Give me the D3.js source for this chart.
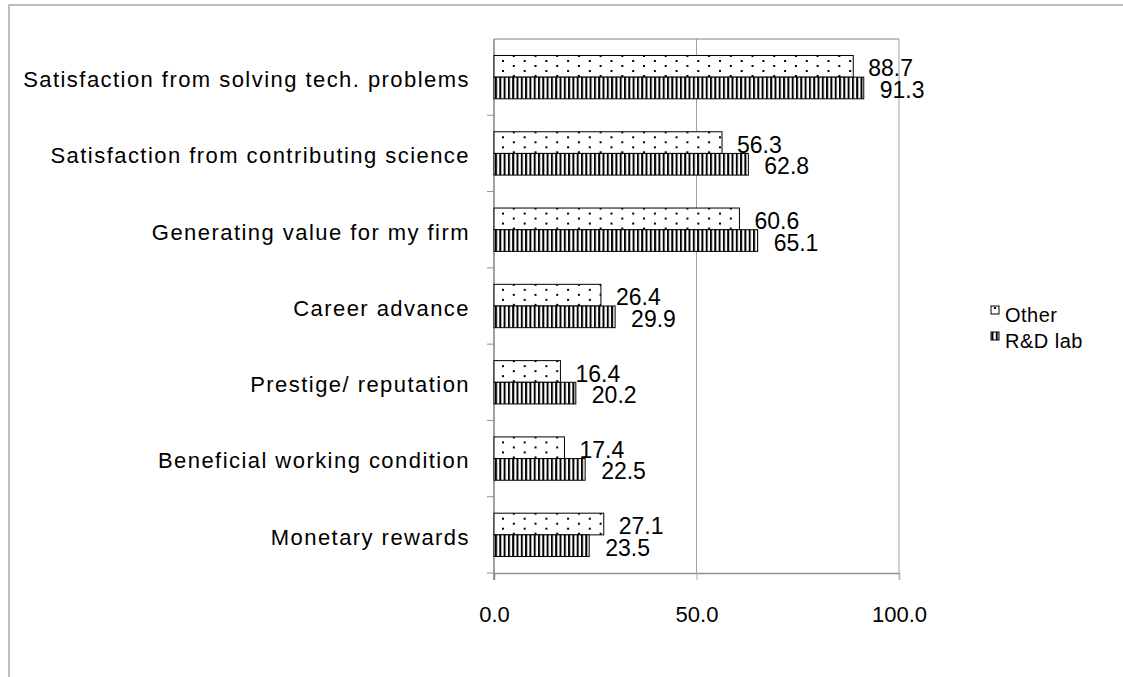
<!DOCTYPE html>
<html lang="en">
<head>
    <meta charset="UTF-8">
    <title>Motivation by workplace</title>
    <script src="https://d3js.org/d3.v7.min.js"></script>
    <style>
        body { margin: 0; background: #fff; font-family: "Liberation Sans", Arial, sans-serif; }
        svg text { fill: #000; }
    </style>
</head>
<body>
    <div id="chart"></div>
    <script>
        // Data
        var categories = [
            "Satisfaction from solving tech. problems",
            "Satisfaction from contributing science",
            "Generating value for my firm",
            "Career advance",
            "Prestige/ reputation",
            "Beneficial working condition",
            "Monetary rewards"
        ];
        var series = ["Other", "R&D lab"];
        var otherValues = [88.7, 56.3, 60.6, 26.4, 16.4, 17.4, 27.1];
        var rdValues = [91.3, 62.8, 65.1, 29.9, 20.2, 22.5, 23.5];
        var xTicks = [0, 50, 100];

        var width = 1123, height = 677;
        // plot area edges (note: "top" is reserved on window, so use plot*)
        var plotLeft = 494, plotRight = 899, plotTop = 39, plotBottom = 573;

        var svg = d3.select("#chart").append("svg")
            .attr("width", width)
            .attr("height", height);

        // patterns: dots for Other, vertical stripes for R&D lab
        var defs = svg.append("defs");
        var dots = defs.append("pattern")
            .attr("id", "dots")
            .attr("patternUnits", "userSpaceOnUse")
            .attr("width", 21.7).attr("height", 10)
            .attr("x", plotLeft + 8).attr("y", plotTop + 2);
        dots.append("rect").attr("width", 21.7).attr("height", 10).attr("fill", "#fff");
        dots.append("rect").attr("x", 0).attr("y", 0).attr("width", 2).attr("height", 2).attr("fill", "#000");
        dots.append("rect").attr("x", 10.8).attr("y", 5).attr("width", 2).attr("height", 2).attr("fill", "#000");

        var stripes = defs.append("pattern")
            .attr("id", "stripes")
            .attr("patternUnits", "userSpaceOnUse")
            .attr("width", 4.3).attr("height", 10)
            .attr("x", plotLeft + 1);
        stripes.append("rect").attr("width", 4.3).attr("height", 10).attr("fill", "#fff");
        stripes.append("rect").attr("width", 2).attr("height", 10).attr("fill", "#000");

        // outer frame, runs past the right and bottom edge
        svg.append("rect")
            .attr("x", 9).attr("y", 5)
            .attr("width", width).attr("height", height)
            .attr("fill", "none")
            .attr("stroke", "#a6a6a6")
            .attr("stroke-width", 1.5);

        var x = d3.scaleLinear().domain([0, 100]).range([plotLeft, plotRight]);
        var y = d3.scaleBand().domain(categories).range([plotTop, plotBottom]);
        var inner = d3.scaleBand().domain(series).range([0, y.bandwidth()])
            .paddingOuter(0.76).paddingInner(0);

        // grid and plot frame
        svg.append("g").selectAll("line")
            .data(xTicks.slice(1))
            .enter().append("line")
            .attr("x1", d => x(d)).attr("x2", d => x(d))
            .attr("y1", plotTop).attr("y2", plotBottom)
            .attr("stroke", "#a0a0a0").attr("stroke-width", 1);
        svg.append("line")
            .attr("x1", plotLeft).attr("x2", plotRight)
            .attr("y1", plotTop).attr("y2", plotTop)
            .attr("stroke", "#808080");

        // bottom axis
        var xAxis = svg.append("g")
            .attr("transform", `translate(0,${plotBottom})`)
            .call(d3.axisBottom(x).tickValues(xTicks).tickSize(7).tickPadding(22)
                .tickFormat(d3.format(".1f")));
        xAxis.select(".domain").attr("stroke", "#909090").attr("stroke-width", 1.5);
        xAxis.selectAll(".tick line").attr("stroke", "#b0b0b0");
        xAxis.selectAll("text").style("font-size", "22px").attr("dy", "0.9em");

        // left axis with ticks at band edges
        svg.append("line")
            .attr("x1", plotLeft).attr("x2", plotLeft)
            .attr("y1", plotTop).attr("y2", plotBottom + 7)
            .attr("stroke", "#808080").attr("stroke-width", 1.5);
        svg.append("g").selectAll("line")
            .data(categories.slice(1).concat(["end"]))
            .enter().append("line")
            .attr("x1", plotLeft - 7).attr("x2", plotLeft)
            .attr("y1", d => d === "end" ? plotBottom : y(d))
            .attr("y2", d => d === "end" ? plotBottom : y(d))
            .attr("stroke", "#909090");

        svg.append("g").selectAll("text")
            .data(categories)
            .enter().append("text")
            .attr("x", 470)
            .attr("y", d => y(d) + y.bandwidth() / 2 + 4)
            .attr("text-anchor", "end")
            .attr("dominant-baseline", "middle")
            .style("font-size", "22px")
            .style("letter-spacing", "1.45px")
            .text(d => d);

        // bars
        var rows = categories.map((c, i) => ({ cat: c, vals: [otherValues[i], rdValues[i]] }));
        var groups = svg.append("g").selectAll("g")
            .data(rows)
            .enter().append("g")
            .attr("transform", d => `translate(0,${y(d.cat)})`);

        groups.selectAll("rect")
            .data(d => d.vals.map((v, j) => ({ s: series[j], v: v })))
            .enter().append("rect")
            .attr("x", x(0))
            .attr("y", d => inner(d.s))
            .attr("width", d => x(d.v) - x(0))
            .attr("height", inner.bandwidth())
            .attr("fill", d => d.s === "Other" ? "url(#dots)" : "url(#stripes)")
            .attr("stroke", "#000")
            .attr("stroke-width", 1);

        groups.selectAll("text")
            .data(d => d.vals.map((v, j) => ({ s: series[j], v: v })))
            .enter().append("text")
            .attr("x", d => x(d.v) + (d.s === "Other" ? 15 : 16))
            .attr("y", d => inner(d.s) + inner.bandwidth() / 2 + 4)
            .attr("dominant-baseline", "middle")
            .style("font-size", "23px")
            .text(d => d3.format(".1f")(d.v));

        // legend
        var legend = svg.append("g").selectAll("g")
            .data(series)
            .enter().append("g")
            .attr("transform", (d, i) => `translate(991,${306 + i * 26})`);
        legend.append("rect")
            .attr("width", 8).attr("height", 8)
            .attr("fill", d => d === "Other" ? "url(#dots)" : "url(#stripes)")
            .attr("stroke", "#000").attr("stroke-width", 1);
        legend.append("text")
            .attr("x", 14).attr("y", 16)
            .style("font-size", "20px")
            .style("letter-spacing", "0.5px")
            .text(d => d);
    </script>
</body>
</html>
